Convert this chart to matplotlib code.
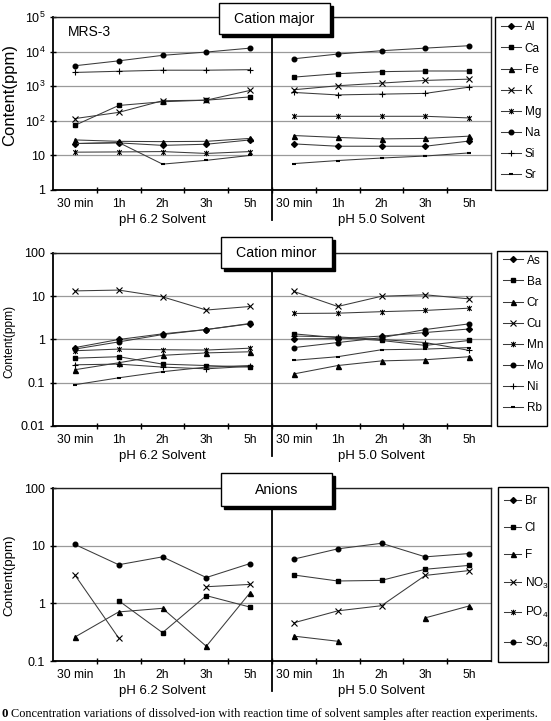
import numpy as np
import matplotlib
matplotlib.use("Agg")
import matplotlib.pyplot as plt
from matplotlib.path import Path
from matplotlib.patches import Rectangle
from matplotlib.lines import Line2D
from matplotlib.ticker import NullLocator
import matplotlib.transforms as mtransforms

plt.rcParams['font.family'] = ['Liberation Sans', 'DejaVu Sans']

# ---------------- data ----------------
times = ['30 min', '1h', '2h', '3h', '5h']
solvents = ['pH 6.2 Solvent', 'pH 5.0 Solvent']
nan = np.nan

# Cation major (ppm): first 5 = pH 6.2, last 5 = pH 5.0
Al = [22, 23, 19.5, 21, 28, 21.5, 18.4, 18.4, 18.4, 26]
Ca = [74, 277, 355, 395, 490, 1830, 2300, 2630, 2750, 2750]
Fe = [28, 25.5, 25, 25.5, 31, 37.5, 33, 30, 31, 36]
K = [116, 175, 380, 395, 755, 790, 1030, 1230, 1470, 1600]
Mg = [12.4, 12.6, 12.9, 11.4, 12.9, 135, 135, 135, 135, 121]
Na = [3900, 5400, 7800, 9700, 12600, 6200, 8500, 10600, 12600, 14800]
Si = [2500, 2700, 2900, 2900, 3000, 660, 560, 590, 620, 940]
Sr = [22, 23.6, 5.6, 7.2, 10, 5.8, 7.1, 8.4, 9.6, 11.8]

# Cation minor (ppm)
As = [0.65, 1.0, 1.35, 1.7, 2.3, 1.03, 1.05, 1.2, 1.45, 1.75]
Ba = [0.37, 0.40, 0.27, 0.25, 0.23, 1.35, 1.1, 0.95, 0.73, 0.95]
Cr = [0.20, 0.29, 0.43, 0.49, 0.52, 0.16, 0.25, 0.32, 0.34, 0.40]
Cu = [13.3, 13.9, 9.7, 4.8, 5.8, 12.9, 5.8, 10.0, 10.8, 8.7]
Mn = [0.55, 0.60, 0.58, 0.57, 0.63, 4.0, 4.06, 4.4, 4.7, 5.3]
Mo = [0.60, 0.88, 1.3, 1.7, 2.35, 0.65, 0.85, 1.1, 1.7, 2.3]
Ni = [0.26, 0.27, 0.23, 0.21, 0.24, 1.2, 1.15, 1.0, 0.85, 0.56]
Rb = [0.09, 0.13, 0.18, 0.23, 0.25, 0.33, 0.40, 0.58, 0.60, 0.65]

# Anions (ppm)
Br = [nan] * 10
Cl = [nan, 1.11, 0.31, 1.36, 0.86, 3.1, 2.44, 2.5, 3.9, 4.55]
F = [0.26, 0.71, 0.82, 0.18, 1.53, 0.27, 0.22, nan, 0.56, 0.9]
NO3 = [3.1, 0.25, nan, 1.94, 2.13, 0.46, 0.74, 0.91, 3.05, 3.7]
PO4 = [nan] * 10
SO4 = [10.5, 4.67, 6.4, 2.8, 4.9, 5.85, 8.8, 11.0, 6.4, 7.3]

major_names = ['Al', 'Ca', 'Fe', 'K', 'Mg', 'Na', 'Si', 'Sr']
major_vals = [Al, Ca, Fe, K, Mg, Na, Si, Sr]
minor_names = ['As', 'Ba', 'Cr', 'Cu', 'Mn', 'Mo', 'Ni', 'Rb']
minor_vals = [As, Ba, Cr, Cu, Mn, Mo, Ni, Rb]
anion_names = ['Br', 'Cl', 'F', r'$\mathregular{NO_3}$', r'$\mathregular{PO_4}$', r'$\mathregular{SO_4}$']
anion_vals = [Br, Cl, F, NO3, PO4, SO4]

# ---------------- styles ----------------
W, H = 551, 721
fig = plt.figure(figsize=(W / 100, H / 100), dpi=100)

star = Path([(-1, -1), (1, 1), (-1, 1), (1, -1), (0, -1.25), (0, 1.25)],
            [Path.MOVETO, Path.LINETO, Path.MOVETO, Path.LINETO, Path.MOVETO, Path.LINETO])

MK = {
    'D': dict(marker='D', ms=3.0),
    's': dict(marker='s', ms=3.1),
    '^': dict(marker='^', ms=3.6),
    'x': dict(marker='x', ms=3.8, mew=0.8),
    '*': dict(marker=star, ms=4.0, mew=0.8),
    'o': dict(marker='o', ms=3.3),
    '+': dict(marker='+', ms=4.6, mew=0.8),
    '_': dict(marker='_', ms=3.5, mew=1.5),
}
major_mk = ['D', 's', '^', 'x', '*', 'o', '+', '_']
minor_mk = ['D', 's', '^', 'x', '*', 'o', '+', '_']
anion_mk = ['D', 's', '^', 'x', '*', 'o']

LINE_C = '#3a3a3a'


def fx(x):
    return x / W


def fy(y):
    return 1 - y / H


def make_axes(top, bottom, left=53, right=491):
    return fig.add_axes([fx(left), fy(bottom), (right - left) / W, (bottom - top) / H])


def draw_panel(ax, names, vals, mks, ylim, yticks, yticklabels):
    ax.set_yscale('log')
    for name, v, mk in zip(names, vals, mks):
        v = np.asarray(v, float)
        for h in range(2):
            xs = np.arange(5) + 5 * h
            ax.plot(xs, v[5 * h:5 * h + 5], color=LINE_C, lw=0.75,
                    mfc='k', mec='k', zorder=3, **MK[mk])
    ax.set_xlim(-0.5, 9.5)
    ax.set_ylim(*ylim)
    ax.set_xticks(range(10))
    ax.set_xticklabels(times * 2, fontsize=8.7)
    ax.set_xticks(np.arange(0.5, 9.0, 1.0), minor=True)
    ax.tick_params(axis='x', which='major', length=0, pad=6)
    ax.tick_params(axis='x', which='minor', length=4, direction='inout', width=1)
    ax.set_yticks(yticks)
    ax.set_yticklabels(yticklabels, fontsize=9)
    ax.yaxis.set_minor_locator(NullLocator())
    ax.tick_params(axis='y', which='major', length=5, direction='inout', width=1, pad=3)
    ax.grid(axis='y', color='#9a9a9a', lw=0.9, zorder=1)
    ax.set_axisbelow(True)
    for s in ['top', 'right']:
        ax.spines[s].set_linewidth(1.0)
        ax.spines[s].set_color('#222222')
    for s in ['left', 'bottom']:
        ax.spines[s].set_linewidth(1.3)
    trans = mtransforms.blended_transform_factory(ax.transData, ax.transAxes)
    ax.plot([4.5, 4.5], [1.0, -0.175], transform=trans, color='k', lw=1.3,
            clip_on=False, zorder=4)
    for h in range(2):
        ax.text(2 + 5 * h, -0.172, solvents[h], transform=trans, ha='center',
                va='center', fontsize=9.5)


def title_box(text, x0, y0, x1, y1):
    sh = 3
    fig.add_artist(Rectangle((fx(x0 + sh), fy(y1 + sh)), (x1 - x0) / W, (y1 - y0) / H,
                             transform=fig.transFigure, facecolor='k', edgecolor='k',
                             zorder=5))
    fig.add_artist(Rectangle((fx(x0), fy(y1)), (x1 - x0) / W, (y1 - y0) / H,
                             transform=fig.transFigure, facecolor='white', edgecolor='k',
                             lw=1.0, zorder=6))
    fig.text(fx((x0 + x1) / 2), fy((y0 + y1) / 2), text, ha='center', va='center',
             fontsize=10.2, zorder=7)


def legend(names, mks, box, first_center, spacing, hlen):
    x0, y0, x1, y1 = box
    fig.add_artist(Rectangle((fx(x0), fy(y1)), (x1 - x0) / W, (y1 - y0) / H,
                             transform=fig.transFigure, facecolor='white', edgecolor='k',
                             lw=1.0, zorder=5))
    handles = [Line2D([], [], color=LINE_C, lw=0.75, mfc='k', mec='k', **MK[m]) for m in mks]
    leg = fig.legend(handles, names, loc='upper left',
                     bbox_to_anchor=(fx(x0 + 6), fy(first_center - 7.5)),
                     bbox_transform=fig.transFigure, borderaxespad=0,
                     fontsize=8.5, frameon=False, handlelength=hlen,
                     handletextpad=0.3, labelspacing=spacing, borderpad=0)
    leg.set_zorder(8)
    return leg


def ylabel(y_center, size):
    fig.text(fx(9.5), fy(y_center), 'Content(ppm)', rotation=90, ha='center',
             va='center', fontsize=size)


# ---------------- panel 1: Cation major ----------------
ax1 = make_axes(17, 190)
draw_panel(ax1, major_names, major_vals, major_mk, (1, 1e5),
           [1, 10, 100, 1000, 1e4, 1e5],
           ['1', '10', r'$\mathregular{10^2}$', r'$\mathregular{10^3}$',
            r'$\mathregular{10^4}$', r'$\mathregular{10^5}$'])
title_box('Cation major', 219, 3, 330, 34)
legend(major_names, major_mk, (495, 17, 547, 190), 29, 0.77, 1.7)
fig.text(fx(68), fy(32), 'MRS-3', ha='left', va='center', fontsize=10)
ylabel(95, 12)

# ---------------- panel 2: Cation minor ----------------
ax2 = make_axes(253, 426)
draw_panel(ax2, minor_names, minor_vals, minor_mk, (0.01, 100),
           [0.01, 0.1, 1, 10, 100], ['0.01', '0.1', '1', '10', '100'])
title_box('Cation minor', 221, 237, 332, 268)
legend(minor_names, minor_mk, (497, 251, 547, 426), 262, 0.77, 1.7)
ylabel(341, 8.6)

# ---------------- panel 3: Anions ----------------
ax3 = make_axes(488, 661)
draw_panel(ax3, anion_names, anion_vals, anion_mk, (0.1, 100),
           [0.1, 1, 10, 100], ['0.1', '1', '10', '100'])
title_box('Anions', 221, 473, 332, 506)
legend(anion_names, anion_mk, (498, 487, 548, 662), 503, 1.24, 1.45)
ylabel(575, 9.6)

# ---------------- caption ----------------
fig.text(fx(1), fy(714), '0', fontsize=9.3, fontweight='bold', ha='left', va='center',
         family='Liberation Serif')
fig.text(fx(11), fy(714), 'Concentration variations of dissolved-ion with reaction time '
         'of solvent samples after reaction experiments.', fontsize=8.85, ha='left',
         va='center', family='Liberation Serif')

fig.savefig('out.png', dpi=100)
